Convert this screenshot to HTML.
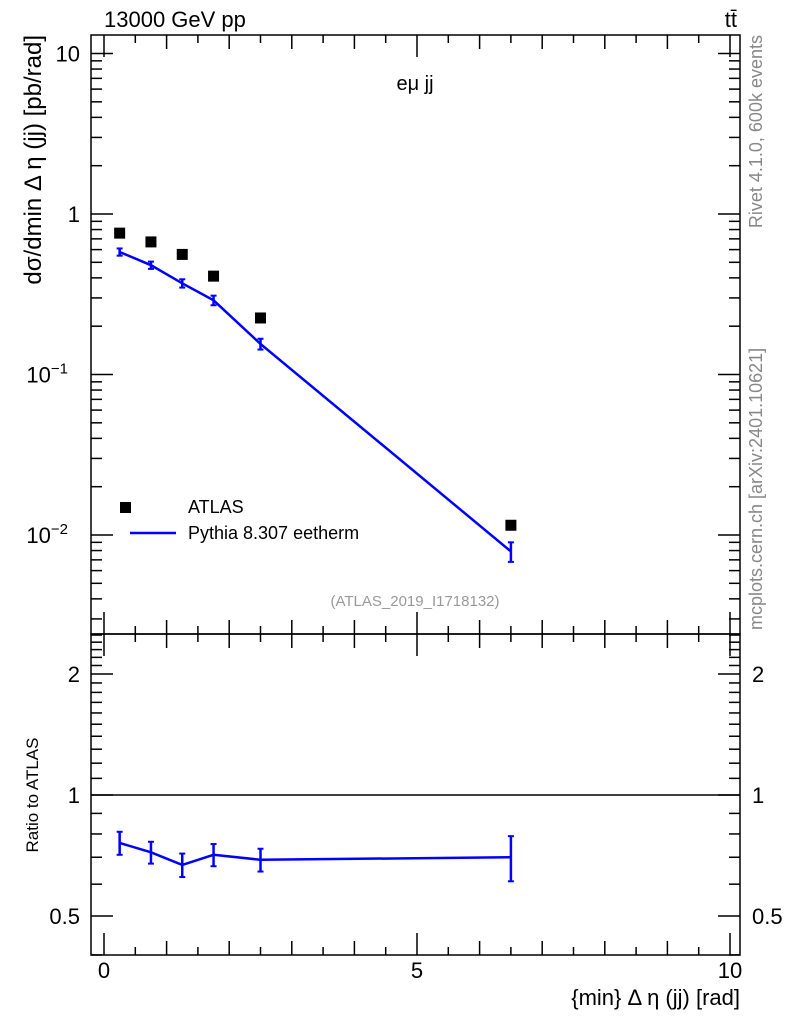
<!DOCTYPE html>
<html><head><meta charset="utf-8"><style>
body{margin:0;background:#fff}
svg text{font-family:"Liberation Sans",sans-serif}
</style></head><body>
<svg id="c" width="786" height="1024" xmlns="http://www.w3.org/2000/svg"></svg>
<script>
const xs=[0.25,0.75,1.25,1.75,2.5,6.5];
const atlas=[0.76,0.67,0.56,0.41,0.225,0.0115];
const pythia=[0.58,0.48,0.37,0.29,0.155,0.0079];
const pyErr=[0.03,0.025,0.022,0.02,0.012,0.0011];
const ratio=[0.76,0.72,0.67,0.71,0.69,0.70];
const ratioErr=[0.05,0.045,0.045,0.045,0.045,0.09];
const xTickLabels=[0,5,10];
const rTickLabels=[0.5,1,2];
const svg=document.getElementById('c');
const NS='http://www.w3.org/2000/svg';
const L=91,R=740,T=35,M=634,B=955;
const X=v=>104+v*62.6;
const Y=v=>214-Math.log10(v)*160.5;
const RY=v=>795-Math.log10(v)/Math.log10(2)*121;
function el(t,a,p){const e=document.createElementNS(NS,t);for(const k in a)e.setAttribute(k,a[k]);(p||svg).appendChild(e);return e;}
function line(x1,y1,x2,y2,c,w){return el('line',{x1,y1,x2,y2,stroke:c||'#000','stroke-width':w||1.5});}
function text(x,y,s,sz,anchor,fill,name){const t=el('text',{x,y,'font-size':sz,'text-anchor':anchor||'start',fill:fill||'#000'});t.textContent=s;return t;}
const f1=el('rect',{x:L,y:T,width:R-L,height:M-T,fill:'none',stroke:'#000','stroke-width':1.5});

const f2=el('rect',{x:L,y:M,width:R-L,height:B-M,fill:'none',stroke:'#000','stroke-width':1.5});

for(let v=0;v<=10.01;v+=0.5){const maj=Math.abs(v-Math.round(v))<1e-6;const len=maj?(v%5===0?22:14):8;const x=X(v);
 for(const [a,b] of [[T,M],[M,B]]){line(x,b,x,b-len);line(x,a,x,a+len);}}
xTickLabels.forEach(v=>text(X(v),978,String(v),22,'middle','#000','x-tick-label'));
for(let e=-3;e<=1;e++)for(let m=1;m<=9;m++){const v=m*Math.pow(10,e);const y=Y(v);if(y<T||y>M)continue;const len=m===1?22:11;line(L,y,L+len,y);line(R,y,R-len,y);}
[[0.01,'10','−2'],[0.1,'10','−1'],[1,'1',''],[10,'10','']].forEach(([v,b,s])=>{const t=text(80,Y(v)+8,b,22,'end','#000','y-tick-label');if(s){t.setAttribute('x',68);const sp=el('tspan',{dy:-9,'font-size':15},t);sp.textContent=s;}});
for(let v=0.4;v<=2.55;v+=0.1){const y=RY(v);if(y<M||y>B)continue;const maj=[0.5,1,2].some(q=>Math.abs(q-v)<1e-6);const len=maj?22:11;line(L,y,L+len,y);line(R,y,R-len,y);}
rTickLabels.forEach(v=>{text(80,RY(v)+8,String(v),22,'end','#000','ratio-tick-label');text(752,RY(v)+8,String(v),22,'start','#000','ratio-tick-label-right');});
line(L,RY(1),R,RY(1),'#000',1.5);
const pl=el('polyline',{points:xs.map((x,i)=>X(x)+','+Y(pythia[i])).join(' '),fill:'none',stroke:'#0000ff','stroke-width':2.5});

xs.forEach((x,i)=>{const cx=X(x);const y1=Y(pythia[i]+pyErr[i]),y2=Y(pythia[i]-pyErr[i]);line(cx,y1,cx,y2,'#0000ff',2.5);line(cx-3,y1,cx+3,y1,'#0000ff',2);line(cx-3,y2,cx+3,y2,'#0000ff',2);});
xs.forEach((x,i)=>{const r=el('rect',{x:X(x)-5.5,y:Y(atlas[i])-5.5,width:11,height:11,fill:'#000'});});
const rl=el('polyline',{points:xs.map((x,i)=>X(x)+','+RY(ratio[i])).join(' '),fill:'none',stroke:'#0000ff','stroke-width':2.5});

xs.forEach((x,i)=>{const cx=X(x);const y1=RY(ratio[i]+ratioErr[i]),y2=RY(ratio[i]-ratioErr[i]);line(cx,y1,cx,y2,'#0000ff',2.5);line(cx-3,y1,cx+3,y1,'#0000ff',2);line(cx-3,y2,cx+3,y2,'#0000ff',2);});
const lg=el('rect',{x:120,y:502,width:11,height:11,fill:'#000'});
text(188,513,'ATLAS',18,'start','#000','legend-atlas');
line(130,533,176,533,'#0000ff',2.5);
text(188,539,'Pythia 8.307 eetherm',18,'start','#000','legend-pythia');
text(104,27,'13000 GeV pp',22,'start','#000','energy-label');
text(737,27,'tt̄',22,'end','#000','process-label');
text(415,90,'eμ jj',20,'middle','#000','panel-title');
text(415,606,'(ATLAS_2019_I1718132)',15,'middle','#999','analysis-id');
text(740,1005,'{min} Δ η (jj) [rad]',22,'end','#000','x-axis-title');
const yt=text(0,0,'dσ/dmin Δ η (jj) [pb/rad]',24,'end','#000','y-axis-title');yt.setAttribute('transform','translate(41,35) rotate(-90)');
const rt=text(0,0,'Ratio to ATLAS',17,'middle','#000','ratio-axis-title');rt.setAttribute('transform','translate(38,795) rotate(-90)');
const s1=text(0,0,'Rivet 4.1.0,  600k events',18,'end','#888','rivet-label');s1.setAttribute('transform','translate(762,35) rotate(-90)');
const s2=text(0,0,'mcplots.cern.ch [arXiv:2401.10621]',18,'start','#888','mcplots-label');s2.setAttribute('transform','translate(762,630) rotate(-90)');
</script>
</body></html>
